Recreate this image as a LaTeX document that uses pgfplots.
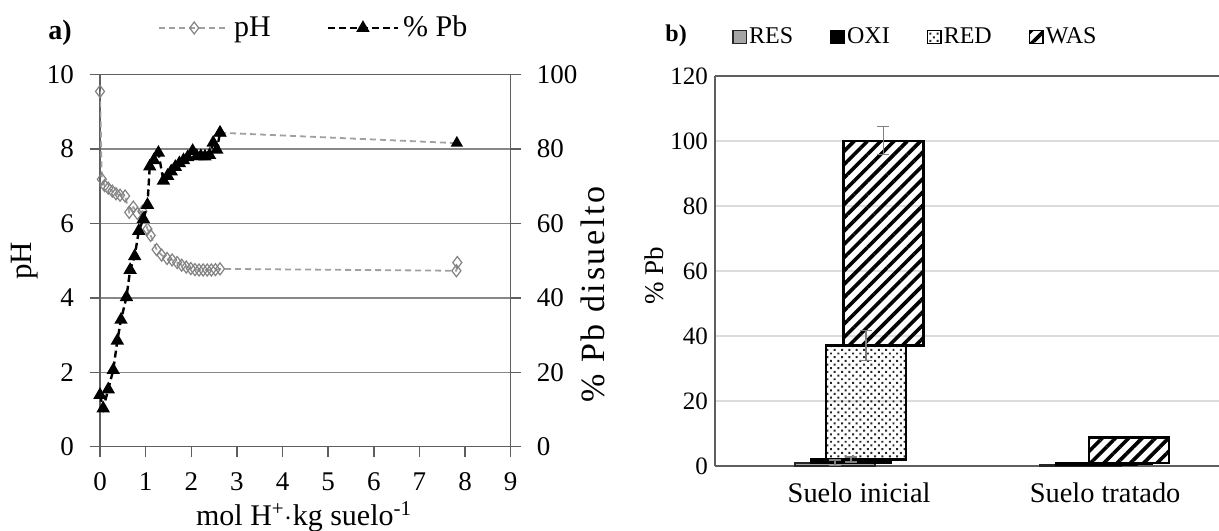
\documentclass[border=0pt]{standalone}
\usepackage{fontspec}
\setmainfont{Liberation Serif}
\usepackage{pgfplots}
\pgfplotsset{compat=1.18}
\usetikzlibrary{patterns,patterns.meta}
\definecolor{phgray}{RGB}{160,160,160}
\definecolor{phmark}{RGB}{130,130,130}
\definecolor{gridgray}{RGB}{135,135,135}
\definecolor{axgray}{RGB}{95,95,95}
\definecolor{resgray}{RGB}{165,165,165}
\definecolor{lightgrid}{RGB}{220,220,220}

\pgfplotstableread{
x y
0.00 9.55
0.04 7.19
0.10 7.02
0.18 6.95
0.27 6.87
0.35 6.80
0.44 6.76
0.55 6.74
0.64 6.30
0.73 6.44
0.82 6.27
0.93 6.33
1.04 5.85
1.11 5.68
1.24 5.30
1.35 5.15
1.47 5.06
1.58 5.02
1.69 4.95
1.79 4.88
1.89 4.83
1.99 4.79
2.08 4.76
2.17 4.75
2.26 4.75
2.35 4.75
2.44 4.75
2.53 4.76
2.63 4.78
7.81 4.73
7.83 4.95
}\phdata

\pgfplotstableread{
x y
0.00 13.9
0.07 10.3
0.18 15.4
0.29 20.6
0.38 28.5
0.46 34.1
0.58 40.2
0.66 47.5
0.76 51.2
0.85 58.0
0.95 61.2
1.04 65.0
1.09 75.3
1.18 77.0
1.28 79.0
1.39 71.5
1.48 72.8
1.56 74.0
1.65 75.2
1.74 76.2
1.83 77.0
1.92 77.8
2.03 79.5
2.12 78.1
2.21 78.1
2.30 78.0
2.40 78.4
2.48 81.7
2.56 79.8
2.63 84.4
}\pbdata

\pgfplotstableread{
x y
2.63 84.4
7.82 81.6
}\pbtail

\begin{document}
\begin{tikzpicture}[x=1pt,y=1pt]
% ---------- panel a: pH ----------
\begin{axis}[
  at={(50pt,41.65pt)}, anchor=south west,
  scale only axis, width=205.35pt, height=186pt,
  xmin=0, xmax=9, ymin=0, ymax=10,
  xtick={0,1,...,9}, ytick={0,2,...,10},
  xtick pos=bottom, ytick pos=left,
  tick align=outside, major tick length=5pt,
  axis line style={axgray, line width=0.7pt},
  tick style={axgray, line width=0.7pt},
  ymajorgrids, major grid style={gridgray, line width=0.7pt},
  /pgf/number format/assume math mode=true,
  tick label style={font=\fontsize{13.5}{15}\selectfont},
  xticklabel style={yshift=-4.5pt},
  yticklabel style={xshift=-4.5pt},
  xlabel={mol H\textsuperscript{+}$\cdot$kg suelo\textsuperscript{-1}},
  xlabel style={font=\fontsize{15}{17}\selectfont, at={(axis description cs:0.497,0)}, anchor=base, yshift=-39.5pt},
  ylabel={pH},
  ylabel style={font=\fontsize{15.5}{17}\selectfont, at={(axis description cs:-0.1826,0.5)}, anchor=center},
]
\addplot[phgray, line width=0.9pt, dash pattern=on 3pt off 2pt,
  mark=diamond, mark size=3pt, mark options={solid, fill=white, draw=phmark, line width=0.6pt}]
  table[x=x,y=y] {\phdata};
\end{axis}
% ---------- panel a: % Pb ----------
\begin{axis}[
  at={(50pt,41.65pt)}, anchor=south west,
  scale only axis, width=205.35pt, height=186pt,
  xmin=0, xmax=9, ymin=0, ymax=100,
  ytick={0,20,...,100},
  axis x line=none, axis y line*=right,
  tick align=outside, major tick length=5pt,
  axis line style={axgray, line width=0.7pt},
  tick style={axgray, line width=0.7pt},
  /pgf/number format/assume math mode=true,
  tick label style={font=\fontsize{13.5}{15}\selectfont},
  yticklabel style={xshift=4.5pt},
  ylabel={\addfontfeature{LetterSpace=8}\% Pb disuelto},
  ylabel style={font=\fontsize{17}{19}\selectfont, at={(axis description cs:1.2001,0.41)}, anchor=center},
  legend columns=2,
  legend style={draw=none, fill=none, at={(axis description cs:0.141,1.1255)}, anchor=west,
    font=\fontsize{15}{17}\selectfont, inner sep=0pt,
    /tikz/every even column/.append style={column sep=26pt}},
  legend image code/.code={\draw[#1, mark repeat=2, mark phase=2] plot coordinates {(0pt,0pt) (17.5pt,0pt) (35pt,0pt)};},
]
\addlegendimage{phgray, line width=0.9pt, dash pattern=on 3pt off 2pt,
  mark=diamond, mark size=3pt, mark options={solid, fill=white, draw=phmark, line width=0.6pt}}
\addlegendentry{pH}
\addplot[black, line width=1.2pt, dash pattern=on 3.5pt off 2pt,
  mark=triangle*, mark size=2.7pt, mark options={solid, fill=black}]
  table[x=x,y=y] {\pbdata};
\addlegendentry{\% Pb}
\addplot[forget plot, phgray, line width=0.9pt, dash pattern=on 3pt off 2pt,
  mark=triangle*, mark size=2.7pt, mark options={solid, fill=black, draw=black}]
  table[x=x,y=y] {\pbtail};
\end{axis}

% ---------- panel b ----------
\begin{axis}[
  at={(357.5pt,32pt)}, anchor=south west,
  scale only axis, width=252.85pt, height=195pt,
  xmin=0, xmax=2.06, ymin=0, ymax=120,
  ytick={0,20,...,100},
  extra y ticks={120}, extra y tick style={grid=major, major grid style={axgray, line width=0.9pt}},
  xtick={0.587,1.589}, xticklabels={Suelo inicial, Suelo tratado},
  axis x line*=bottom, axis y line*=left,
  major tick length=0pt,
  axis line style={axgray, line width=0.8pt},
  ymajorgrids, major grid style={lightgrid, line width=0.8pt},
  /pgf/number format/assume math mode=true,
  yticklabel style={font=\fontsize{12.5}{14}\selectfont},
  xticklabel style={font=\fontsize{14.2}{16}\selectfont, yshift=-5pt},
  ylabel={\% Pb},
  ylabel style={font=\fontsize{13.5}{15}\selectfont, at={(axis description cs:-0.1206,0.487)}, anchor=center},
  legend columns=4,
  legend style={draw=none, fill=none, at={(axis description cs:0.033,1.1)}, anchor=west,
    font=\fontsize{12}{14}\selectfont, inner sep=0pt,
    nodes={inner sep=1pt},
    /tikz/every even column/.append style={column sep=17.5pt}},
  legend image code/.code={\draw[#1, line width=0.7pt] (0pt,-3.3pt) rectangle (6.8pt,3.3pt);},
]
% Suelo inicial
\addplot[fill=resgray, draw=black!85, line width=1.1pt] coordinates {(0.326,0) (0.652,0) (0.652,1.0) (0.326,1.0)} -- cycle;
\addlegendentry{RES}
\addplot[fill=black, draw=black, line width=1.1pt] coordinates {(0.391,1.0) (0.717,1.0) (0.717,2.0) (0.391,2.0)} -- cycle;
\addlegendentry{OXI}
\addplot[pattern={Dots[angle=45, distance=2.6pt, radius=0.7pt]}, pattern color=black!85, draw=black, line width=1.1pt] coordinates {(0.452,2.0) (0.778,2.0) (0.778,37.1) (0.452,37.1)} -- cycle;
\addlegendentry{RED}
\addplot[pattern={Lines[angle=45, distance=4.7pt, line width=1.8pt]}, pattern color=black, draw=black, line width=1.1pt] coordinates {(0.523,37.1) (0.849,37.1) (0.849,100.1) (0.523,100.1)} -- cycle;
\addlegendentry{WAS}
% Suelo tratado
\addplot[forget plot, fill=resgray, draw=black!85, line width=1.1pt] coordinates {(1.326,0) (1.652,0) (1.652,0.2) (1.326,0.2)} -- cycle;
\addplot[forget plot, fill=black, draw=black, line width=1.1pt] coordinates {(1.391,0.2) (1.717,0.2) (1.717,0.8) (1.391,0.8)} -- cycle;
\addplot[forget plot, pattern={Dots[angle=45, distance=2.6pt, radius=0.7pt]}, pattern color=black!85, draw=black, line width=1.1pt] coordinates {(1.452,0.8) (1.778,0.8) (1.778,1.0) (1.452,1.0)} -- cycle;
\addplot[forget plot, pattern={Lines[angle=45, distance=4.7pt, line width=1.8pt]}, pattern color=black, draw=black, line width=1.1pt] coordinates {(1.523,1.0) (1.849,1.0) (1.849,8.8) (1.523,8.8)} -- cycle;
% error bars
\addplot[forget plot, draw=none, mark=none,
  error bars/.cd, y dir=both, y explicit,
  error bar style={draw=gray, solid, line width=0.8pt},
  error mark options={draw=gray, mark size=3pt, line width=0.8pt, rotate=90}]
  coordinates {(0.686,100.1) +- (0,4.3) (0.615,37.1) +- (0,4.6) (0.489,1.0) +- (0,0.8) (0.554,2.0) +- (0,0.8)};
\end{axis}

\node[anchor=base west, inner sep=0pt, font=\fontsize{14}{16}\selectfont\bfseries] at (24pt,245pt) {a)};
\node[anchor=base west, inner sep=0pt, font=\fontsize{12}{14}\selectfont\bfseries] at (332.5pt,244pt) {b)};

\pgfresetboundingbox
\path (0pt,0pt) rectangle (609.5pt,265pt);
\end{tikzpicture}
\end{document}
